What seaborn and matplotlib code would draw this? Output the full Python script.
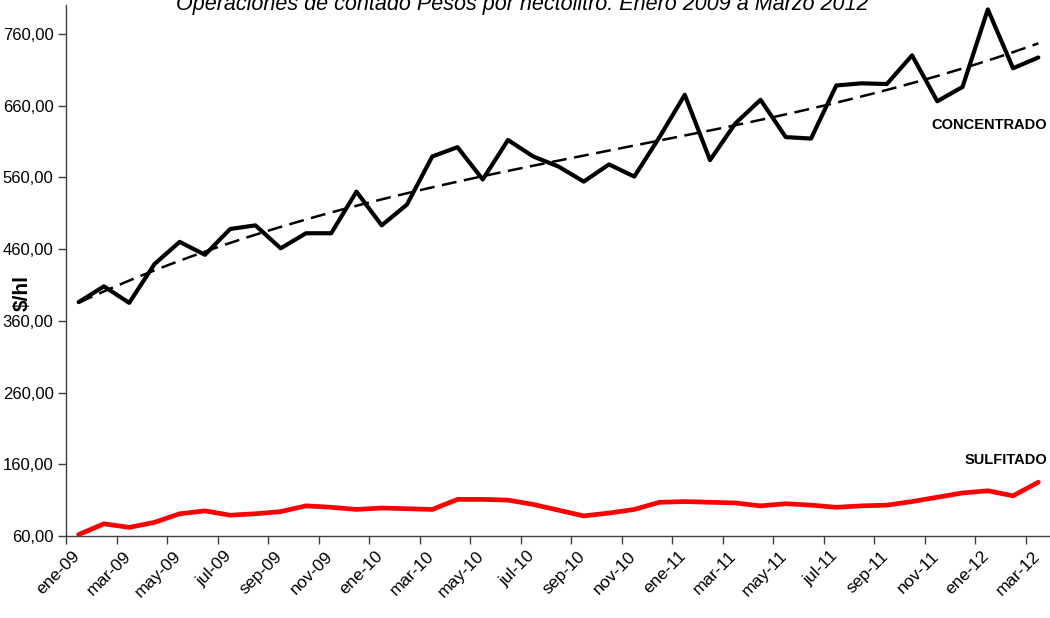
import numpy as np
import pandas as pd
import matplotlib
matplotlib.use("Agg")
import matplotlib.pyplot as plt
from matplotlib.ticker import FuncFormatter
import seaborn as sns

# Monthly prices ($/hl), ene-09 .. mar-12
months = ['ene', 'feb', 'mar', 'abr', 'may', 'jun', 'jul', 'ago', 'sep', 'oct', 'nov', 'dic']
periods = [f"{m}-{y}" for y in ['09', '10', '11'] for m in months] + ['ene-12', 'feb-12', 'mar-12']

concentrado = [386, 408, 385, 439, 470, 452, 488, 493, 461, 482,
               482, 540, 493, 522, 589, 602, 557, 612, 589, 575,
               554, 578, 561, 616, 675, 584, 635, 668, 616, 614,
               688, 691, 690, 730, 666, 686, 794, 712, 727]
sulfitado = [62, 77, 72, 79, 91, 95, 89, 91, 94, 102,
             100, 97, 99, 98, 97, 111, 111, 110, 104, 96,
             88, 92, 97, 107, 108, 107, 106, 102, 105, 103,
             100, 102, 103, 108, 114, 120, 123, 116, 135]

yticks = [60, 160, 260, 360, 460, 560, 660, 760]

df = pd.DataFrame({'Periodo': np.arange(len(periods)),
                   'Concentrado': concentrado,
                   'Sulfitado': sulfitado})

# polynomial trend for concentrado (like the excel trendline)
coef = np.polyfit(df['Periodo'], df['Concentrado'], 3)
xs = np.linspace(0, len(periods) - 1, 200)
trend = pd.DataFrame({'Periodo': xs, 'Tendencia': np.polyval(coef, xs)})

sns.set_theme(style='white')
plt.rcParams['font.family'] = ['Liberation Sans', 'DejaVu Sans']
plt.rcParams['text.color'] = 'black'

fig = plt.figure(figsize=(10.5, 6.18), dpi=100)
ax = fig.add_axes([0.0629, 0.1327, 0.938, 0.859])

sns.lineplot(ax=ax, data=df, x='Periodo', y='Sulfitado', color='#ff0000', lw=3.4)
sns.lineplot(ax=ax, data=df, x='Periodo', y='Concentrado', color='black', lw=3.0)
sns.lineplot(ax=ax, data=trend, x='Periodo', y='Tendencia', color='black', lw=1.8,
             linestyle=(0, (6, 3)))

ax.set_xlim(-0.5, len(periods) - 0.5)
ax.set_ylim(60, 800)
ax.set_yticks(yticks)
ax.yaxis.set_major_formatter(FuncFormatter(lambda v, p: f"{v:.2f}".replace('.', ',')))

# tick marks between categories, labels on every second month
ax.set_xticks(np.arange(-0.5, len(periods) - 1, 2))
ax.set_xticklabels([])
ax.set_xticks(np.arange(0, len(periods), 2) - 0.25, minor=True)
ax.set_xticklabels(periods[::2], minor=True, rotation=45, ha='right',
                   rotation_mode='anchor', fontsize=12.5, color='black')
ax.tick_params(axis='x', which='major', direction='out', length=6, width=1,
               color='#404040', bottom=True)
ax.tick_params(axis='x', which='minor', length=0, pad=9)
ax.tick_params(axis='y', direction='out', length=6, width=1, color='#404040',
               left=True, labelsize=12, labelcolor='black', pad=3)

for s in ['top', 'right']:
    ax.spines[s].set_visible(False)
for s in ['left', 'bottom']:
    ax.spines[s].set_color('#404040')
    ax.spines[s].set_linewidth(1)

ax.set_xlabel('')
ax.set_ylabel('')
fig.text(0.021, 0.526, '$/hl', rotation=90, fontsize=15, fontweight='bold',
         ha='center', va='center')

ax.text(38.35, 633, 'CONCENTRADO', fontsize=10.5, fontweight='bold',
        ha='right', va='center')
ax.text(38.35, 166, 'SULFITADO', fontsize=10.5, fontweight='bold',
        ha='right', va='center')

fig.text(0.497, 1 - 10 / 618, 'Operaciones de contado Pesos por hectolitro. Enero 2009 a Marzo 2012',
         fontsize=15.5, fontstyle='italic', ha='center', va='baseline')

fig.savefig('out.png', dpi=100)
